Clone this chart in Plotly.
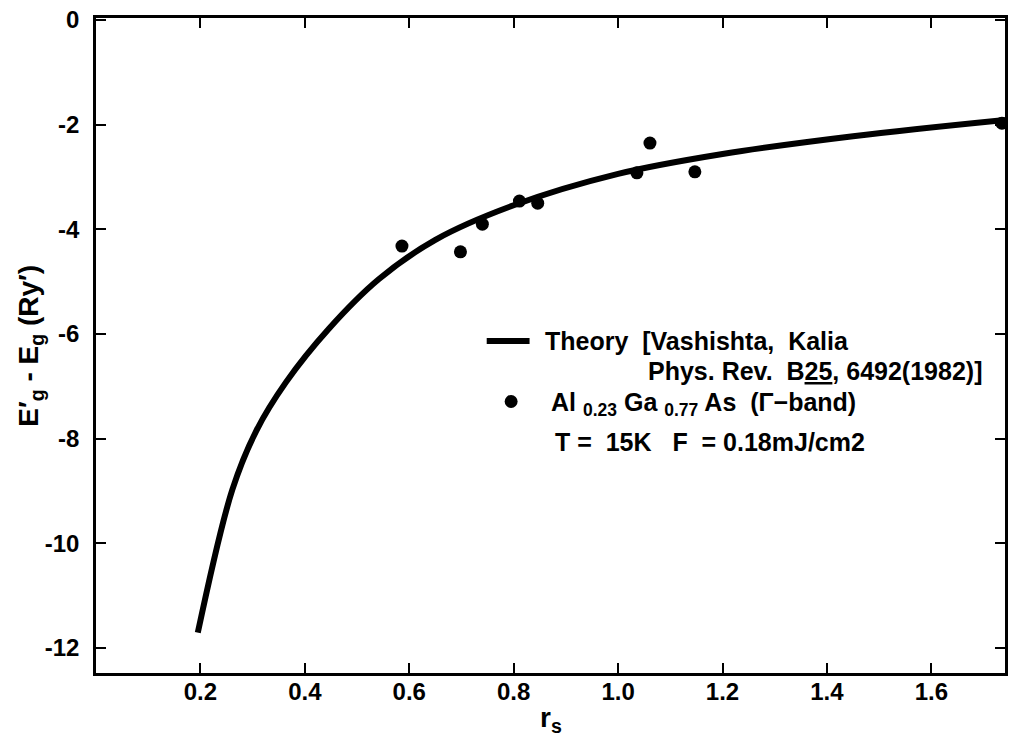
import plotly.graph_objects as go

# Theory curve (Vashishta & Kalia): band-gap renormalization vs r_s
theory_rs = [0.195, 0.261, 0.307, 0.364, 0.446, 0.542, 0.65, 0.80, 1.00,
             1.20, 1.45, 1.741]
theory_dE = [-11.71, -8.98, -7.85, -6.92, -5.90, -4.95, -4.20, -3.54, -2.94,
             -2.56, -2.22, -1.91]

# Measured points, Al0.23Ga0.77As (Gamma band)
meas_rs = [0.586, 0.698, 0.740, 0.811, 0.846, 1.036, 1.061, 1.147, 1.735]
meas_dE = [-4.32, -4.43, -3.90, -3.46, -3.50, -2.92, -2.35, -2.90, -1.97]

x_ticks = [0.2, 0.4, 0.6, 0.8, 1.0, 1.2, 1.4, 1.6]
x_tick_labels = ["0.2", "0.4", "0.6", "0.8", "1.0", "1.2", "1.4", "1.6"]
y_ticks = [0, -2, -4, -6, -8, -10, -12]
y_tick_labels = ["0", "-2", "-4", "-6", "-8", "-10", "-12"]

W, H = 1009, 741
L, R, T, B = 96, 1, 18, 68
PW, PH = W - L - R, H - T - B


def px(xp):
    return (xp - L) / PW


def py(yp):
    return (H - B - yp) / PH


FONT = "Liberation Sans, Arial, Helvetica, sans-serif"

fig = go.Figure()
fig.add_trace(go.Scatter(
    x=theory_rs, y=theory_dE, mode="lines",
    line=dict(color="black", width=6, shape="spline", smoothing=1.0),
    hoverinfo="skip", showlegend=False,
))
fig.add_trace(go.Scatter(
    x=meas_rs, y=meas_dE, mode="markers",
    marker=dict(color="black", size=13),
    hoverinfo="skip", showlegend=False,
))

axis_common = dict(
    showline=True, linecolor="black", linewidth=2.5, mirror="ticks",
    ticks="inside", ticklen=10, tickwidth=2, tickcolor="black",
    showgrid=False, zeroline=False,
    tickfont=dict(family=FONT, size=24, color="black", weight="bold"),
)

fig.update_layout(
    width=W, height=H,
    margin=dict(l=L, r=R, t=T, b=B),
    paper_bgcolor="white", plot_bgcolor="white",
    font=dict(family=FONT, color="black", weight="bold"),
    xaxis=dict(range=[0, 1.741], tickvals=x_ticks, ticktext=x_tick_labels,
               ticklabelstandoff=-5, **axis_common),
    yaxis=dict(range=[-12.48, 0.04], tickvals=y_ticks, ticktext=y_tick_labels,
               ticklabelstandoff=9, **axis_common),
)

ann_font = dict(family=FONT, size=25, color="black", weight="bold")
title_font = dict(family=FONT, size=28, color="black", weight="bold")

annotations = [
    # axis titles
    dict(x=px(30), y=0.5, text="E′<sub>g</sub> - E<sub>g</sub> (Ry′)", textangle=-90,
         xanchor="center", yanchor="middle", font=title_font),
    dict(x=0.5, y=py(719), text="r<sub>s</sub>", xanchor="center", yanchor="middle",
         font=title_font),
    # legend text
    dict(x=px(544), y=py(341), text="Theory  [Vashishta,  Kalia",
         xanchor="left", yanchor="middle"),
    dict(x=px(648), y=py(371), text="Phys. Rev.  B<u>25</u>, 6492(1982)]",
         xanchor="left", yanchor="middle"),
    dict(x=px(550), y=py(404), text="Al <sub>0.23</sub> Ga <sub>0.77</sub> As  (Γ−band)",
         xanchor="left", yanchor="middle"),
    dict(x=px(555), y=py(442), text="T =  15K   F  = 0.18mJ/cm2",
         xanchor="left", yanchor="middle"),
]
for a in annotations:
    a.setdefault("font", ann_font)
    a.update(xref="paper", yref="paper", showarrow=False)
fig.update_layout(annotations=annotations)

# legend symbols
fig.add_shape(type="line", xref="paper", yref="paper",
              x0=px(488), x1=px(531), y0=py(341), y1=py(341),
              line=dict(color="black", width=6))
fig.add_shape(type="circle", xref="paper", yref="paper",
              x0=px(506), x1=px(519), y0=py(408), y1=py(395),
              fillcolor="black", line=dict(color="black", width=0))

fig.write_html("out.html", config={"displayModeBar": False})
